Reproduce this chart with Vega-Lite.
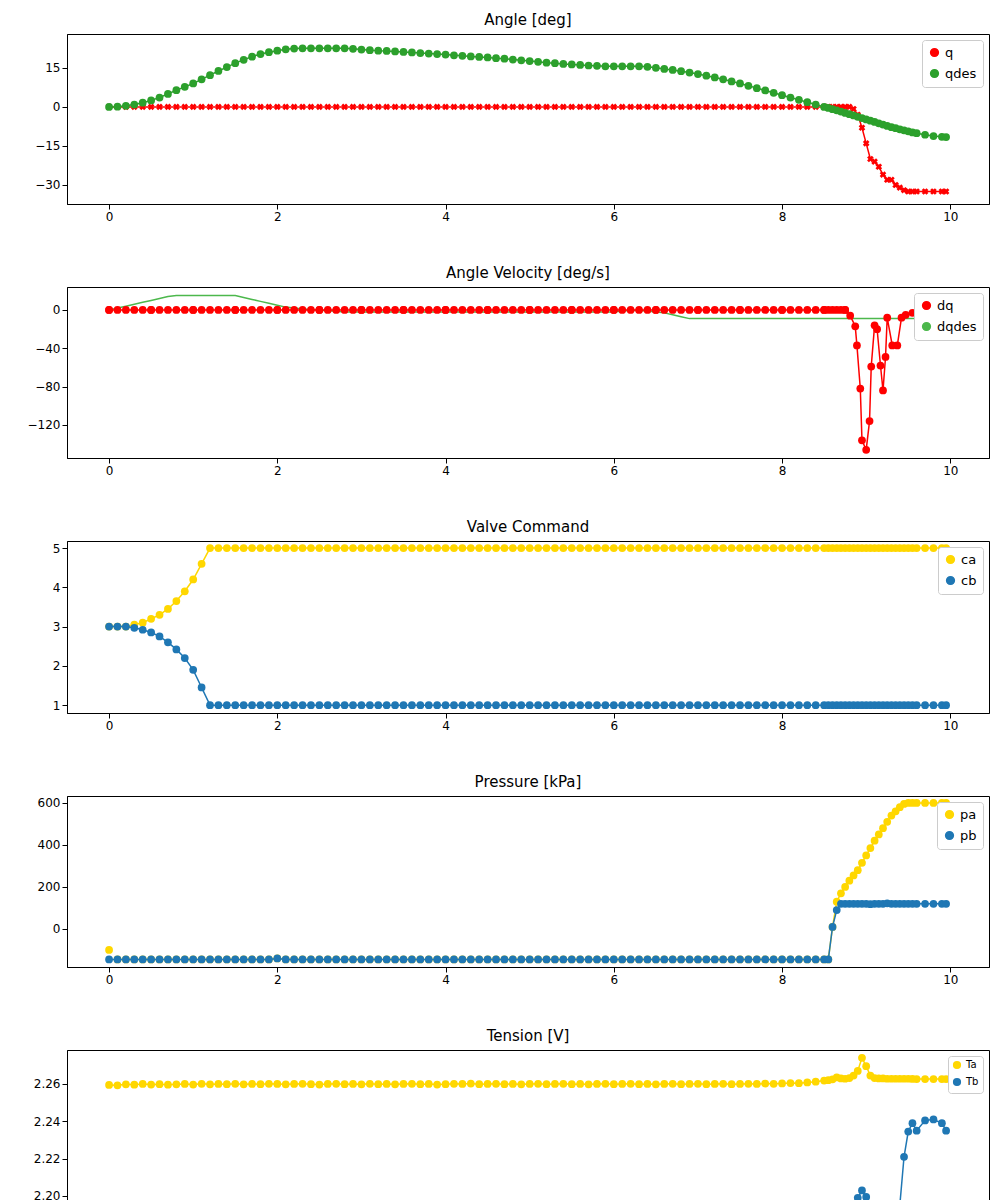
{
  "$schema": "https://vega.github.io/schema/vega-lite/v6.json",
  "autosize": "pad",
  "padding": {"left": 26, "top": 12, "right": 10, "bottom": 10},
  "background": "white",
  "config": {
    "font": "DejaVu Sans",
    "view": {"stroke": "black", "strokeWidth": 1},
    "axis": {"grid": false, "domainColor": "black", "tickColor": "black", "labelColor": "black", "labelFontSize": 12, "titleFontSize": 12, "titleFontWeight": "normal", "titleColor": "black"},
    "title": {"fontSize": 15, "fontWeight": "normal", "color": "black", "offset": 6},
    "legend": {"orient": "top-right", "title": null, "strokeColor": "#cccccc", "fillColor": "white", "padding": 6, "cornerRadius": 3, "labelFontSize": 13, "symbolType": "circle", "symbolSize": 60, "offset": 6, "rowPadding": 6}
  },
  "datasets": {
    "main": [
      {"t":0,"q":0,"qd":0,"dd":0,"ca":3,"cb":3,"pa":-100,"pb":-145,"Ta":2.2595,"Tb":2.1915},
      {"t":0.1,"q":0,"qd":0.1,"dd":2,"ca":3,"cb":3,"pa":-145,"pb":-145,"Ta":2.2593,"Tb":2.191},
      {"t":0.2,"q":0,"qd":0.4,"dd":4,"ca":3,"cb":3,"pa":-145,"pb":-145,"Ta":2.2598,"Tb":2.1908},
      {"t":0.3,"q":0,"qd":0.9,"dd":6,"ca":3.05,"cb":2.97,"pa":-145,"pb":-145,"Ta":2.2596,"Tb":2.191},
      {"t":0.4,"q":0,"qd":1.6,"dd":8,"ca":3.1,"cb":2.92,"pa":-145,"pb":-145,"Ta":2.26,"Tb":2.1912},
      {"t":0.5,"q":0,"qd":2.5,"dd":10,"ca":3.2,"cb":2.85,"pa":-145,"pb":-145,"Ta":2.2597,"Tb":2.1908},
      {"t":0.6,"q":0,"qd":3.6,"dd":12,"ca":3.3,"cb":2.75,"pa":-145,"pb":-145,"Ta":2.2599,"Tb":2.191},
      {"t":0.7,"q":0,"qd":5,"dd":14,"ca":3.45,"cb":2.6,"pa":-145,"pb":-145,"Ta":2.2596,"Tb":2.1912},
      {"t":0.8,"q":0,"qd":6.4,"dd":15,"ca":3.65,"cb":2.42,"pa":-145,"pb":-145,"Ta":2.2598,"Tb":2.1909},
      {"t":0.9,"q":0,"qd":7.7,"dd":15,"ca":3.9,"cb":2.2,"pa":-145,"pb":-145,"Ta":2.26,"Tb":2.191},
      {"t":1.0,"q":0,"qd":9,"dd":15,"ca":4.2,"cb":1.9,"pa":-145,"pb":-145,"Ta":2.2597,"Tb":2.1912},
      {"t":1.1,"q":0,"qd":10.6,"dd":15,"ca":4.6,"cb":1.45,"pa":-145,"pb":-145,"Ta":2.2601,"Tb":2.1909},
      {"t":1.2,"q":0,"qd":12.2,"dd":15,"ca":5,"cb":1,"pa":-145,"pb":-145,"Ta":2.2598,"Tb":2.191},
      {"t":1.3,"q":0,"qd":13.8,"dd":15,"ca":5,"cb":1,"pa":-145,"pb":-145,"Ta":2.26,"Tb":2.1912},
      {"t":1.4,"q":0,"qd":15.3,"dd":15,"ca":5,"cb":1,"pa":-145,"pb":-145,"Ta":2.2599,"Tb":2.191},
      {"t":1.5,"q":0,"qd":16.8,"dd":15,"ca":5,"cb":1,"pa":-145,"pb":-145,"Ta":2.2601,"Tb":2.1908},
      {"t":1.6,"q":0,"qd":18.1,"dd":13,"ca":5,"cb":1,"pa":-145,"pb":-145,"Ta":2.2598,"Tb":2.1911},
      {"t":1.7,"q":0,"qd":19.3,"dd":11,"ca":5,"cb":1,"pa":-145,"pb":-145,"Ta":2.26,"Tb":2.191},
      {"t":1.8,"q":0,"qd":20.3,"dd":9,"ca":5,"cb":1,"pa":-145,"pb":-145,"Ta":2.2599,"Tb":2.1912},
      {"t":1.9,"q":0,"qd":21,"dd":7,"ca":5,"cb":1,"pa":-145,"pb":-145,"Ta":2.2601,"Tb":2.191},
      {"t":2.0,"q":0,"qd":21.6,"dd":5,"ca":5,"cb":1,"pa":-140,"pb":-140,"Ta":2.26,"Tb":2.1912},
      {"t":2.1,"q":0,"qd":22.1,"dd":3,"ca":5,"cb":1,"pa":-145,"pb":-145,"Ta":2.2598,"Tb":2.191},
      {"t":2.2,"q":0,"qd":22.4,"dd":2,"ca":5,"cb":1,"pa":-145,"pb":-145,"Ta":2.26,"Tb":2.1909},
      {"t":2.3,"q":0,"qd":22.5,"dd":1,"ca":5,"cb":1,"pa":-145,"pb":-145,"Ta":2.2601,"Tb":2.1911},
      {"t":2.4,"q":0,"qd":22.5,"dd":0.4,"ca":5,"cb":1,"pa":-145,"pb":-145,"Ta":2.2599,"Tb":2.191},
      {"t":2.5,"q":0,"qd":22.5,"dd":-0.2,"ca":5,"cb":1,"pa":-145,"pb":-145,"Ta":2.2597,"Tb":2.1908},
      {"t":2.6,"q":0,"qd":22.5,"dd":-0.8,"ca":5,"cb":1,"pa":-145,"pb":-145,"Ta":2.26,"Tb":2.191},
      {"t":2.7,"q":0,"qd":22.5,"dd":-1.4,"ca":5,"cb":1,"pa":-145,"pb":-145,"Ta":2.2601,"Tb":2.1912},
      {"t":2.8,"q":0,"qd":22.5,"dd":-2,"ca":5,"cb":1,"pa":-145,"pb":-145,"Ta":2.2599,"Tb":2.191},
      {"t":2.9,"q":0,"qd":22.3,"dd":-2,"ca":5,"cb":1,"pa":-145,"pb":-145,"Ta":2.26,"Tb":2.1909},
      {"t":3.0,"q":0,"qd":22,"dd":-2,"ca":5,"cb":1,"pa":-145,"pb":-145,"Ta":2.2598,"Tb":2.1911},
      {"t":3.1,"q":0,"qd":21.8,"dd":-2,"ca":5,"cb":1,"pa":-145,"pb":-145,"Ta":2.2601,"Tb":2.191},
      {"t":3.2,"q":0,"qd":21.6,"dd":-2,"ca":5,"cb":1,"pa":-145,"pb":-145,"Ta":2.2599,"Tb":2.1912},
      {"t":3.3,"q":0,"qd":21.5,"dd":-2,"ca":5,"cb":1,"pa":-145,"pb":-145,"Ta":2.26,"Tb":2.191},
      {"t":3.4,"q":0,"qd":21.3,"dd":-2,"ca":5,"cb":1,"pa":-145,"pb":-145,"Ta":2.2598,"Tb":2.1908},
      {"t":3.5,"q":0,"qd":21.1,"dd":-2,"ca":5,"cb":1,"pa":-145,"pb":-145,"Ta":2.26,"Tb":2.191},
      {"t":3.6,"q":0,"qd":20.9,"dd":-2,"ca":5,"cb":1,"pa":-145,"pb":-145,"Ta":2.2601,"Tb":2.1911},
      {"t":3.7,"q":0,"qd":20.7,"dd":-2,"ca":5,"cb":1,"pa":-145,"pb":-145,"Ta":2.2599,"Tb":2.191},
      {"t":3.8,"q":0,"qd":20.5,"dd":-2,"ca":5,"cb":1,"pa":-145,"pb":-145,"Ta":2.26,"Tb":2.1909},
      {"t":3.9,"q":0,"qd":20.3,"dd":-2,"ca":5,"cb":1,"pa":-145,"pb":-145,"Ta":2.2597,"Tb":2.1911},
      {"t":4.0,"q":0,"qd":20.1,"dd":-2,"ca":5,"cb":1,"pa":-145,"pb":-145,"Ta":2.2599,"Tb":2.191},
      {"t":4.1,"q":0,"qd":19.8,"dd":-2,"ca":5,"cb":1,"pa":-145,"pb":-145,"Ta":2.2601,"Tb":2.1912},
      {"t":4.2,"q":0,"qd":19.6,"dd":-2,"ca":5,"cb":1,"pa":-145,"pb":-145,"Ta":2.26,"Tb":2.191},
      {"t":4.3,"q":0,"qd":19.4,"dd":-2,"ca":5,"cb":1,"pa":-145,"pb":-145,"Ta":2.2602,"Tb":2.1911},
      {"t":4.4,"q":0,"qd":19.2,"dd":-2,"ca":5,"cb":1,"pa":-145,"pb":-145,"Ta":2.2599,"Tb":2.191},
      {"t":4.5,"q":0,"qd":19,"dd":-2,"ca":5,"cb":1,"pa":-145,"pb":-145,"Ta":2.26,"Tb":2.1912},
      {"t":4.6,"q":0,"qd":18.7,"dd":-2,"ca":5,"cb":1,"pa":-145,"pb":-145,"Ta":2.2601,"Tb":2.191},
      {"t":4.7,"q":0,"qd":18.5,"dd":-2,"ca":5,"cb":1,"pa":-145,"pb":-145,"Ta":2.2599,"Tb":2.1911},
      {"t":4.8,"q":0,"qd":18.2,"dd":-2,"ca":5,"cb":1,"pa":-145,"pb":-145,"Ta":2.26,"Tb":2.191},
      {"t":4.9,"q":0,"qd":17.9,"dd":-2,"ca":5,"cb":1,"pa":-145,"pb":-145,"Ta":2.2598,"Tb":2.1912},
      {"t":5.0,"q":0,"qd":17.6,"dd":-2,"ca":5,"cb":1,"pa":-145,"pb":-145,"Ta":2.26,"Tb":2.191},
      {"t":5.1,"q":0,"qd":17.3,"dd":-2,"ca":5,"cb":1,"pa":-145,"pb":-145,"Ta":2.2601,"Tb":2.1911},
      {"t":5.2,"q":0,"qd":17,"dd":-2,"ca":5,"cb":1,"pa":-145,"pb":-145,"Ta":2.2599,"Tb":2.191},
      {"t":5.3,"q":0,"qd":16.8,"dd":-2,"ca":5,"cb":1,"pa":-145,"pb":-145,"Ta":2.26,"Tb":2.1912},
      {"t":5.4,"q":0,"qd":16.5,"dd":-2,"ca":5,"cb":1,"pa":-145,"pb":-145,"Ta":2.2601,"Tb":2.191},
      {"t":5.5,"q":0,"qd":16.3,"dd":-2,"ca":5,"cb":1,"pa":-145,"pb":-145,"Ta":2.2599,"Tb":2.1911},
      {"t":5.6,"q":0,"qd":16.1,"dd":-2,"ca":5,"cb":1,"pa":-145,"pb":-145,"Ta":2.26,"Tb":2.191},
      {"t":5.7,"q":0,"qd":15.9,"dd":-2,"ca":5,"cb":1,"pa":-145,"pb":-145,"Ta":2.2598,"Tb":2.1912},
      {"t":5.8,"q":0,"qd":15.8,"dd":-2,"ca":5,"cb":1,"pa":-145,"pb":-145,"Ta":2.26,"Tb":2.191},
      {"t":5.9,"q":0,"qd":15.6,"dd":-2,"ca":5,"cb":1,"pa":-145,"pb":-145,"Ta":2.2601,"Tb":2.1911},
      {"t":6.0,"q":0,"qd":15.6,"dd":-2,"ca":5,"cb":1,"pa":-145,"pb":-145,"Ta":2.2599,"Tb":2.191},
      {"t":6.1,"q":0,"qd":15.6,"dd":-1,"ca":5,"cb":1,"pa":-145,"pb":-145,"Ta":2.26,"Tb":2.1912},
      {"t":6.2,"q":0,"qd":15.6,"dd":-0.5,"ca":5,"cb":1,"pa":-145,"pb":-145,"Ta":2.2601,"Tb":2.191},
      {"t":6.3,"q":0,"qd":15.6,"dd":-0.5,"ca":5,"cb":1,"pa":-145,"pb":-145,"Ta":2.2599,"Tb":2.1911},
      {"t":6.4,"q":0,"qd":15.4,"dd":-1,"ca":5,"cb":1,"pa":-145,"pb":-145,"Ta":2.26,"Tb":2.191},
      {"t":6.5,"q":0,"qd":15,"dd":-2,"ca":5,"cb":1,"pa":-145,"pb":-145,"Ta":2.2598,"Tb":2.1912},
      {"t":6.6,"q":0,"qd":14.6,"dd":-3,"ca":5,"cb":1,"pa":-145,"pb":-145,"Ta":2.26,"Tb":2.191},
      {"t":6.7,"q":0,"qd":14.2,"dd":-5,"ca":5,"cb":1,"pa":-145,"pb":-145,"Ta":2.2601,"Tb":2.1911},
      {"t":6.8,"q":0,"qd":13.7,"dd":-7,"ca":5,"cb":1,"pa":-145,"pb":-145,"Ta":2.2599,"Tb":2.191},
      {"t":6.9,"q":0,"qd":13.2,"dd":-9,"ca":5,"cb":1,"pa":-145,"pb":-145,"Ta":2.26,"Tb":2.1908},
      {"t":7.0,"q":0,"qd":12.6,"dd":-9,"ca":5,"cb":1,"pa":-145,"pb":-145,"Ta":2.2601,"Tb":2.191},
      {"t":7.1,"q":0,"qd":12,"dd":-9,"ca":5,"cb":1,"pa":-145,"pb":-145,"Ta":2.2599,"Tb":2.1911},
      {"t":7.2,"q":0,"qd":11.3,"dd":-9,"ca":5,"cb":1,"pa":-145,"pb":-145,"Ta":2.26,"Tb":2.191},
      {"t":7.3,"q":0,"qd":10.6,"dd":-9,"ca":5,"cb":1,"pa":-145,"pb":-145,"Ta":2.2601,"Tb":2.1912},
      {"t":7.4,"q":0,"qd":9.8,"dd":-9,"ca":5,"cb":1,"pa":-145,"pb":-145,"Ta":2.2599,"Tb":2.191},
      {"t":7.5,"q":0,"qd":9,"dd":-9,"ca":5,"cb":1,"pa":-145,"pb":-145,"Ta":2.26,"Tb":2.1911},
      {"t":7.6,"q":0,"qd":8.1,"dd":-9,"ca":5,"cb":1,"pa":-145,"pb":-145,"Ta":2.2601,"Tb":2.191},
      {"t":7.7,"q":0,"qd":7.2,"dd":-9,"ca":5,"cb":1,"pa":-145,"pb":-145,"Ta":2.26,"Tb":2.1912},
      {"t":7.8,"q":0,"qd":6.3,"dd":-9,"ca":5,"cb":1,"pa":-145,"pb":-145,"Ta":2.2602,"Tb":2.191},
      {"t":7.9,"q":0,"qd":5.4,"dd":-9,"ca":5,"cb":1,"pa":-145,"pb":-145,"Ta":2.2601,"Tb":2.1911},
      {"t":8.0,"q":0,"qd":4.5,"dd":-9,"ca":5,"cb":1,"pa":-145,"pb":-145,"Ta":2.2603,"Tb":2.1912},
      {"t":8.1,"q":0,"qd":3.6,"dd":-9,"ca":5,"cb":1,"pa":-145,"pb":-145,"Ta":2.2605,"Tb":2.1913},
      {"t":8.2,"q":0,"qd":2.7,"dd":-9,"ca":5,"cb":1,"pa":-145,"pb":-145,"Ta":2.2604,"Tb":2.1914},
      {"t":8.3,"q":0,"qd":1.8,"dd":-9,"ca":5,"cb":1,"pa":-145,"pb":-145,"Ta":2.2608,"Tb":2.1915},
      {"t":8.4,"q":0,"qd":0.9,"dd":-9,"ca":5,"cb":1,"pa":-145,"pb":-145,"Ta":2.2612,"Tb":2.1918},
      {"t":8.5,"q":0,"qd":0,"dd":-9,"ca":5,"cb":1,"pa":-145,"pb":-145,"Ta":2.2618,"Tb":2.1925},
      {"t":8.55,"q":0,"qd":-0.4,"dd":-9,"ca":5,"cb":1,"pa":-145,"pb":-145,"Ta":2.262,"Tb":2.1927},
      {"t":8.6,"q":0,"qd":-0.9,"dd":-9,"ca":5,"cb":1,"pa":10,"pb":10,"Ta":2.2625,"Tb":2.193},
      {"t":8.65,"q":0,"qd":-1.3,"dd":-9,"ca":5,"cb":1,"pa":130,"pb":90,"Ta":2.2635,"Tb":2.1934},
      {"t":8.7,"q":0,"qd":-1.8,"dd":-9,"ca":5,"cb":1,"pa":170,"pb":120,"Ta":2.263,"Tb":2.1938},
      {"t":8.75,"q":0,"qd":-2.3,"dd":-9,"ca":5,"cb":1,"pa":200,"pb":120,"Ta":2.2628,"Tb":2.194},
      {"t":8.8,"q":0,"qd":-2.8,"dd":-9,"ca":5,"cb":1,"pa":230,"pb":120,"Ta":2.2632,"Tb":2.1935},
      {"t":8.85,"q":-0.8,"qd":-3.3,"dd":-9,"ca":5,"cb":1,"pa":255,"pb":120,"Ta":2.2645,"Tb":2.1945},
      {"t":8.9,"q":-3,"qd":-3.8,"dd":-9,"ca":5,"cb":1,"pa":280,"pb":120,"Ta":2.267,"Tb":2.199},
      {"t":8.95,"q":-8,"qd":-4.3,"dd":-9,"ca":5,"cb":1,"pa":315,"pb":120,"Ta":2.274,"Tb":2.203},
      {"t":9.0,"q":-14,"qd":-4.8,"dd":-9,"ca":5,"cb":1,"pa":350,"pb":120,"Ta":2.2695,"Tb":2.1995},
      {"t":9.05,"q":-20,"qd":-5.3,"dd":-9,"ca":5,"cb":1,"pa":385,"pb":118,"Ta":2.2645,"Tb":2.1955},
      {"t":9.1,"q":-21,"qd":-5.8,"dd":-9,"ca":5,"cb":1,"pa":420,"pb":120,"Ta":2.2632,"Tb":2.195},
      {"t":9.15,"q":-23,"qd":-6.3,"dd":-9,"ca":5,"cb":1,"pa":450,"pb":120,"Ta":2.263,"Tb":2.195},
      {"t":9.2,"q":-26,"qd":-6.8,"dd":-9,"ca":5,"cb":1,"pa":480,"pb":120,"Ta":2.263,"Tb":2.195},
      {"t":9.25,"q":-28,"qd":-7.3,"dd":-9,"ca":5,"cb":1,"pa":510,"pb":122,"Ta":2.2628,"Tb":2.1952},
      {"t":9.3,"q":-28,"qd":-7.8,"dd":-9,"ca":5,"cb":1,"pa":540,"pb":120,"Ta":2.2628,"Tb":2.195},
      {"t":9.35,"q":-30,"qd":-8.2,"dd":-9,"ca":5,"cb":1,"pa":560,"pb":120,"Ta":2.2628,"Tb":2.195},
      {"t":9.4,"q":-31,"qd":-8.6,"dd":-9,"ca":5,"cb":1,"pa":580,"pb":120,"Ta":2.2628,"Tb":2.1952},
      {"t":9.45,"q":-32,"qd":-9,"dd":-9,"ca":5,"cb":1,"pa":595,"pb":120,"Ta":2.2628,"Tb":2.221},
      {"t":9.5,"q":-32.5,"qd":-9.4,"dd":-9,"ca":5,"cb":1,"pa":600,"pb":120,"Ta":2.2628,"Tb":2.2345},
      {"t":9.55,"q":-32.5,"qd":-9.8,"dd":-9,"ca":5,"cb":1,"pa":600,"pb":120,"Ta":2.2627,"Tb":2.239},
      {"t":9.6,"q":-32.5,"qd":-10.1,"dd":-9,"ca":5,"cb":1,"pa":600,"pb":120,"Ta":2.2626,"Tb":2.235},
      {"t":9.7,"q":-32.5,"qd":-10.7,"dd":-9,"ca":5,"cb":1,"pa":600,"pb":120,"Ta":2.2626,"Tb":2.2405},
      {"t":9.8,"q":-32.5,"qd":-11.2,"dd":-9,"ca":5,"cb":1,"pa":600,"pb":120,"Ta":2.2626,"Tb":2.241},
      {"t":9.9,"q":-32.5,"qd":-11.5,"dd":-9,"ca":5,"cb":1,"pa":600,"pb":120,"Ta":2.2626,"Tb":2.239},
      {"t":9.95,"q":-32.5,"qd":-11.6,"dd":-9,"ca":5,"cb":1,"pa":600,"pb":120,"Ta":2.2626,"Tb":2.235}
    ],
    "dq": [
      {"t":0,"v":0},{"t":0.5,"v":0},{"t":1,"v":0},{"t":1.5,"v":0},{"t":2,"v":0},{"t":2.5,"v":0},{"t":3,"v":0},{"t":3.5,"v":0},{"t":4,"v":0},{"t":4.5,"v":0},{"t":5,"v":0},{"t":5.5,"v":0},{"t":6,"v":0},{"t":6.5,"v":0},{"t":7,"v":0},{"t":7.5,"v":0},{"t":8,"v":0},{"t":8.5,"v":0},{"t":8.75,"v":0},
      {"t":8.81,"v":-6},{"t":8.87,"v":-17},{"t":8.89,"v":-37},{"t":8.93,"v":-82},{"t":8.95,"v":-136},{"t":9.0,"v":-146},{"t":9.04,"v":-116},{"t":9.06,"v":-59},{"t":9.1,"v":-16},{"t":9.13,"v":-20},{"t":9.17,"v":-58},{"t":9.2,"v":-84},{"t":9.23,"v":-49},{"t":9.25,"v":-8},{"t":9.31,"v":-37},{"t":9.37,"v":-37},{"t":9.42,"v":-8},{"t":9.47,"v":-5},{"t":9.55,"v":-3},{"t":9.7,"v":-2},{"t":9.85,"v":-2},{"t":9.95,"v":-2}
    ]
  },
  "vconcat": [
    {
      "title": "Angle [deg]", "width": 922, "height": 170, "data": {"name": "main"},
      "encoding": {"x": {"field": "t", "type": "quantitative", "scale": {"domain": [-0.5, 10.46], "nice": false}, "axis": {"values": [0,2,4,6,8,10], "title": null}}},
      "layer": [
        {"mark": {"type": "line", "strokeWidth": 1.5}, "encoding": {"y": {"field": "q", "type": "quantitative", "scale": {"domain": [-37.3, 28], "nice": false}, "axis": {"values": [-30,-15,0,15], "title": null}}, "color": {"datum": "q", "type": "nominal", "scale": {"domain": ["q","qdes"], "range": ["#ff0000","#2ca02c"]}}}},
        {"mark": {"type": "point", "shape": "cross", "angle": 45, "filled": true, "size": 45, "opacity": 1}, "encoding": {"y": {"field": "q", "type": "quantitative"}, "color": {"datum": "q", "type": "nominal"}}},
        {"mark": {"type": "line", "strokeWidth": 1.5}, "encoding": {"y": {"field": "qd", "type": "quantitative"}, "color": {"datum": "qdes", "type": "nominal"}}},
        {"mark": {"type": "circle", "size": 60, "opacity": 1}, "encoding": {"y": {"field": "qd", "type": "quantitative"}, "color": {"datum": "qdes", "type": "nominal"}}}
      ]
    },
    {
      "title": "Angle Velocity [deg/s]", "width": 922, "height": 171,
      "encoding": {"x": {"field": "t", "type": "quantitative", "scale": {"domain": [-0.5, 10.46], "nice": false}, "axis": {"values": [0,2,4,6,8,10], "title": null}}},
      "layer": [
        {"data": {"name": "main"}, "mark": {"type": "line", "strokeWidth": 1.5}, "encoding": {"y": {"field": "dd", "type": "quantitative", "scale": {"domain": [-154.5, 24], "nice": false}, "axis": {"values": [-120,-80,-40,0], "title": null}}, "color": {"datum": "dqdes", "type": "nominal", "scale": {"domain": ["dq","dqdes"], "range": ["#ff0000","#4cb84c"]}}}},
        {"data": {"name": "dq"}, "mark": {"type": "line", "strokeWidth": 1.5}, "encoding": {"y": {"field": "v", "type": "quantitative"}, "color": {"datum": "dq", "type": "nominal"}}},
        {"data": {"name": "dq"}, "mark": {"type": "circle", "size": 60, "opacity": 1}, "encoding": {"y": {"field": "v", "type": "quantitative"}, "color": {"datum": "dq", "type": "nominal"}}},
        {"data": {"name": "main"}, "transform": [{"filter": "datum.t < 8.8"}], "mark": {"type": "circle", "size": 60, "opacity": 1}, "encoding": {"y": {"datum": 0, "type": "quantitative"}, "color": {"datum": "dq", "type": "nominal"}}}
      ]
    },
    {
      "title": "Valve Command", "width": 922, "height": 172, "data": {"name": "main"},
      "encoding": {"x": {"field": "t", "type": "quantitative", "scale": {"domain": [-0.5, 10.46], "nice": false}, "axis": {"values": [0,2,4,6,8,10], "title": null}}},
      "layer": [
        {"mark": {"type": "line", "strokeWidth": 1.5}, "encoding": {"y": {"field": "ca", "type": "quantitative", "scale": {"domain": [0.8, 5.18], "nice": false}, "axis": {"values": [1,2,3,4,5], "title": null}}, "color": {"datum": "ca", "type": "nominal", "scale": {"domain": ["ca","cb"], "range": ["#ffd700","#1f77b4"]}}}},
        {"mark": {"type": "circle", "size": 60, "opacity": 1}, "encoding": {"y": {"field": "ca", "type": "quantitative"}, "color": {"datum": "ca", "type": "nominal"}}},
        {"mark": {"type": "line", "strokeWidth": 1.5}, "encoding": {"y": {"field": "cb", "type": "quantitative"}, "color": {"datum": "cb", "type": "nominal"}}},
        {"mark": {"type": "circle", "size": 60, "opacity": 1}, "encoding": {"y": {"field": "cb", "type": "quantitative"}, "color": {"datum": "cb", "type": "nominal"}}}
      ]
    },
    {
      "title": "Pressure [kPa]", "width": 922, "height": 171, "data": {"name": "main"},
      "encoding": {"x": {"field": "t", "type": "quantitative", "scale": {"domain": [-0.5, 10.46], "nice": false}, "axis": {"values": [0,2,4,6,8,10], "title": null}}},
      "layer": [
        {"transform": [{"filter": "datum.t > 0"}], "mark": {"type": "line", "strokeWidth": 1.5}, "encoding": {"y": {"field": "pa", "type": "quantitative", "scale": {"domain": [-181, 633], "nice": false}, "axis": {"values": [0,200,400,600], "title": null}}, "color": {"datum": "pa", "type": "nominal", "scale": {"domain": ["pa","pb"], "range": ["#ffd700","#1f77b4"]}}}},
        {"mark": {"type": "circle", "size": 60, "opacity": 1}, "encoding": {"y": {"field": "pa", "type": "quantitative"}, "color": {"datum": "pa", "type": "nominal"}}},
        {"mark": {"type": "line", "strokeWidth": 1.5}, "encoding": {"y": {"field": "pb", "type": "quantitative"}, "color": {"datum": "pb", "type": "nominal"}}},
        {"mark": {"type": "circle", "size": 60, "opacity": 1}, "encoding": {"y": {"field": "pb", "type": "quantitative"}, "color": {"datum": "pb", "type": "nominal"}}}
      ]
    },
    {
      "title": "Tension [V]", "width": 922, "height": 171, "data": {"name": "main"},
      "encoding": {"x": {"field": "t", "type": "quantitative", "scale": {"domain": [-0.5, 10.46], "nice": false}, "axis": {"values": [0,2,4,6,8,10], "title": "Time [s]", "titlePadding": 6}}},
      "layer": [
        {"mark": {"type": "line", "strokeWidth": 1.5}, "encoding": {"y": {"field": "Ta", "type": "quantitative", "scale": {"domain": [2.1866, 2.2782], "nice": false, "zero": false}, "axis": {"values": [2.2,2.22,2.24,2.26], "format": ".2f", "title": null}}, "color": {"datum": "Ta", "type": "nominal", "scale": {"domain": ["Ta","Tb"], "range": ["#ffd700","#1f77b4"]}, "legend": {"labelFontSize": 10, "symbolSize": 45, "rowPadding": 3, "padding": 4}}}},
        {"mark": {"type": "circle", "size": 60, "opacity": 1}, "encoding": {"y": {"field": "Ta", "type": "quantitative"}, "color": {"datum": "Ta", "type": "nominal"}}},
        {"mark": {"type": "line", "strokeWidth": 1.5}, "encoding": {"y": {"field": "Tb", "type": "quantitative"}, "color": {"datum": "Tb", "type": "nominal"}}},
        {"mark": {"type": "circle", "size": 60, "opacity": 1}, "encoding": {"y": {"field": "Tb", "type": "quantitative"}, "color": {"datum": "Tb", "type": "nominal"}}}
      ]
    }
  ],
  "spacing": 42,
  "resolve": {"scale": {"color": "independent", "x": "independent", "y": "independent"}, "legend": {"color": "independent"}}
}
